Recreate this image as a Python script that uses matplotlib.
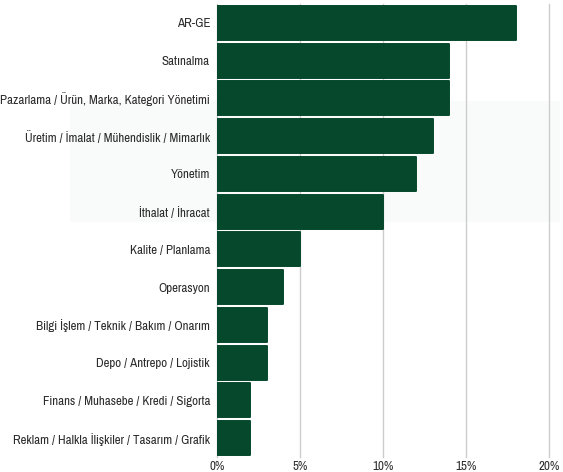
import matplotlib
matplotlib.use("Agg")
import matplotlib.pyplot as plt
from matplotlib.patches import Rectangle

# Data
categories = ["AR-GE", "Satınalma", "Pazarlama / Ürün, Marka, Kategori Yönetimi",
              "Üretim / İmalat / Mühendislik / Mimarlık", "Yönetim", "İthalat / İhracat",
              "Kalite / Planlama", "Operasyon", "Bilgi İşlem / Teknik / Bakım / Onarım",
              "Depo / Antrepo / Lojistik", "Finans / Muhasebe / Kredi / Sigorta",
              "Reklam / Halkla İlişkiler / Tasarım / Grafik"]
values = [18, 14, 14, 13, 12, 10, 5, 4, 3, 3, 2, 2]
ticks = [0, 5, 10, 15, 20]
tick_labels = ["0%", "5%", "10%", "15%", "20%"]

bar_color = "#05482b"
text_color = "#2b2b2b"

plt.rcParams['font.family'] = ['Archivo Narrow', 'Roboto', 'DejaVu Sans']

fig = plt.figure(figsize=(5.63, 4.72), dpi=100)
W, H = 563, 472
# faint background band behind the middle rows
fig.patches.append(Rectangle((70 / W, 1 - 222 / H), 490 / W, 121 / H,
                             transform=fig.transFigure, facecolor="#f9fbfa",
                             edgecolor="none", zorder=-5))

ax = fig.add_axes([217 / W, 1 - 457 / H, (549 - 217) / W, 453 / H])
ax.patch.set_alpha(0)

ypos = list(range(len(categories)))
ax.barh(ypos, values, height=0.9, color=bar_color, edgecolor=bar_color,
        linewidth=1.4, joinstyle="round", zorder=3)

ax.set_xlim(0, 20)
ax.set_ylim(len(categories) - 0.5, -0.5)
ax.set_yticks(ypos)
ax.set_yticklabels(categories, fontsize=9.3, color=text_color)
ax.set_xticks(ticks)
ax.set_xticklabels(tick_labels, fontsize=9.3, color=text_color)
ax.tick_params(axis="y", length=0, pad=5)
ax.tick_params(axis="x", length=0, pad=3)
ax.xaxis.grid(True, color="#cccccc", linewidth=1, zorder=0)
ax.set_axisbelow(True)
for line in ax.get_xgridlines():
    line.set_clip_on(False)
for s in ax.spines.values():
    s.set_visible(False)

fig.savefig("out.png", dpi=100)
